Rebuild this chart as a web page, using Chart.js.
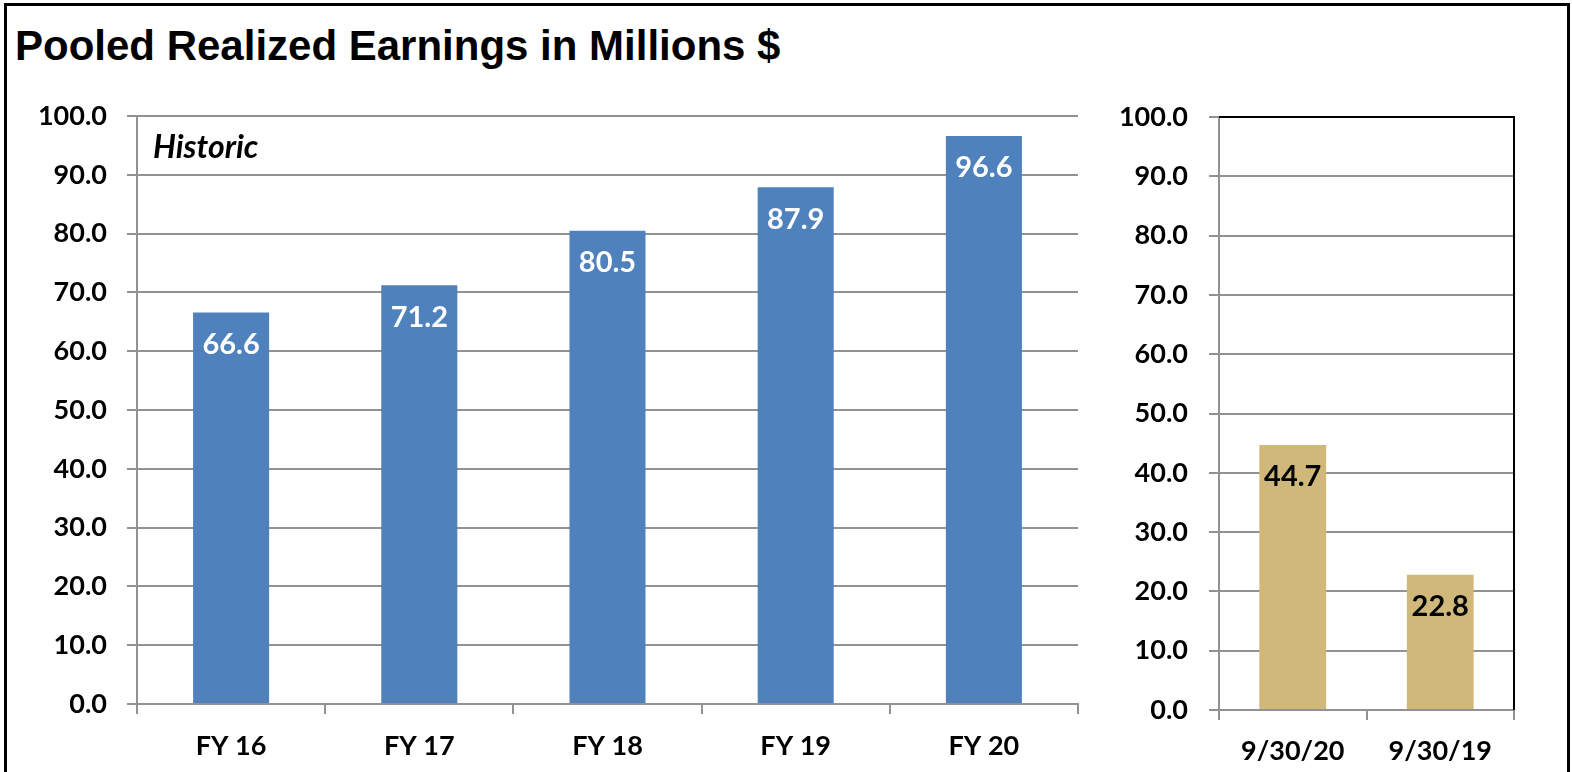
<!DOCTYPE html>
<html>
<head>
<meta charset="utf-8">
<script src="https://cdn.jsdelivr.net/npm/chart.js@4"></script>
<style>
  html, body { margin: 0; padding: 0; background: #fff; }
  body { width: 1572px; height: 772px; position: relative; overflow: hidden; }
  #frame { position: absolute; left: 4px; top: 3px; width: 1560px; height: 800px; border: 3px solid #000; }
  #title { position: absolute; left: 15px; top: 22px; font: bold 42px 'Liberation Sans', Arial, sans-serif; color: #000; white-space: nowrap; }
  #note { position: absolute; left: 153px; top: 126px; font: italic bold 32px Lato, sans-serif; color: #000; }
  .box { position: absolute; top: 90px; height: 682px; }
  #boxHist { left: 0; width: 1090px; }
  #boxYtd { left: 1090px; width: 482px; }
</style>
</head>
<body>
<div id="frame"></div>
<div id="title">Pooled Realized Earnings in Millions $</div>
<div class="box" id="boxHist"><canvas id="chartHist"></canvas></div>
<div class="box" id="boxYtd"><canvas id="chartYtd"></canvas></div>
<div id="note">Historic</div>
<script>
'use strict';

// ─── Data ──────────────────────────────────────────────────────────────────────
const histLabels = ['FY 16', 'FY 17', 'FY 18', 'FY 19', 'FY 20'];
const histValues = [66.6, 71.2, 80.5, 87.9, 96.6];

const ytdLabels = ['9/30/20', '9/30/19'];
const ytdValues = [44.7, 22.8];

const yMin = 0, yMax = 100, yStep = 10;

// ─── Shared styling ────────────────────────────────────────────────────────────
const FONT = 'Lato, sans-serif';
const GRID = '#929292';

// value labels inside the top of each bar
const valueLabels = {
  id: 'valueLabels',
  afterDatasetsDraw(chart, args, opts) {
    const { ctx } = chart;
    const meta = chart.getDatasetMeta(0);
    const data = chart.data.datasets[0].data;
    ctx.save();
    ctx.font = `bold 29px ${FONT}`;
    ctx.fillStyle = opts.color;
    ctx.textAlign = 'center';
    ctx.textBaseline = 'middle';
    meta.data.forEach((bar, i) => {
      ctx.fillText(data[i].toFixed(1), bar.x, bar.y + 32);
    });
    ctx.restore();
  }
};

// black frame on the top and right edge of the plot
const plotFrame = {
  id: 'plotFrame',
  afterDraw(chart, args, opts) {
    if (!opts.on) return;
    const { ctx, chartArea: a } = chart;
    ctx.save();
    ctx.strokeStyle = '#000';
    ctx.lineWidth = 2;
    ctx.beginPath();
    ctx.moveTo(a.left, a.top);
    ctx.lineTo(a.right, a.top);
    ctx.lineTo(a.right, a.bottom);
    ctx.stroke();
    ctx.restore();
  }
};

function makeChart(id, labels, values, o) {
  return new Chart(document.getElementById(id), {
    type: 'bar',
    data: {
      labels: labels,
      datasets: [{
        data: values,
        backgroundColor: o.color,
        borderWidth: 0,
        barPercentage: o.barPct,
        categoryPercentage: 1,
      }]
    },
    options: {
      responsive: true,
      maintainAspectRatio: false,
      animation: false,
      layout: { padding: { left: 0, right: o.padRight, top: o.padTop, bottom: 0 } },
      plugins: {
        legend: { display: false },
        tooltip: { enabled: false },
        valueLabels: { color: o.labelColor },
        plotFrame: { on: o.frame },
      },
      scales: {
        x: {
          grid: { offset: true, drawOnChartArea: false, color: GRID, lineWidth: 2, tickLength: 10 },
          border: { color: GRID, width: 2 },
          ticks: { color: '#000', padding: o.xPad, font: { family: FONT, size: 27, weight: 'bold' } },
          afterFit(s) { s.height = o.xHeight; },
        },
        y: {
          min: yMin, max: yMax,
          ticks: {
            stepSize: yStep,
            color: '#000',
            padding: o.yPad,
            font: { family: FONT, size: 27, weight: 'bold' },
            callback: v => Number(v).toFixed(1),
          },
          grid: { color: GRID, lineWidth: 2, tickLength: 10 },
          border: { color: GRID, width: 2 },
          afterFit(s) { s.width = o.yWidth; s.paddingTop = 0; s.paddingBottom = 0; },
        }
      }
    },
    plugins: [valueLabels, plotFrame]
  });
}

// ─── Charts ────────────────────────────────────────────────────────────────────
const histChart = makeChart('chartHist', histLabels, histValues, {
  color: '#4F81BD', labelColor: '#fff', barPct: 0.404,
  padRight: 12, padTop: 26, yWidth: 137, xHeight: 68, yPad: 20, xPad: 16, frame: false,
});

const ytdChart = makeChart('chartYtd', ytdLabels, ytdValues, {
  color: '#CFB87A', labelColor: '#000', barPct: 0.453,
  padRight: 58, padTop: 27, yWidth: 129, xHeight: 62, yPad: 21, xPad: 15, frame: true,
});
</script>
</body>
</html>
